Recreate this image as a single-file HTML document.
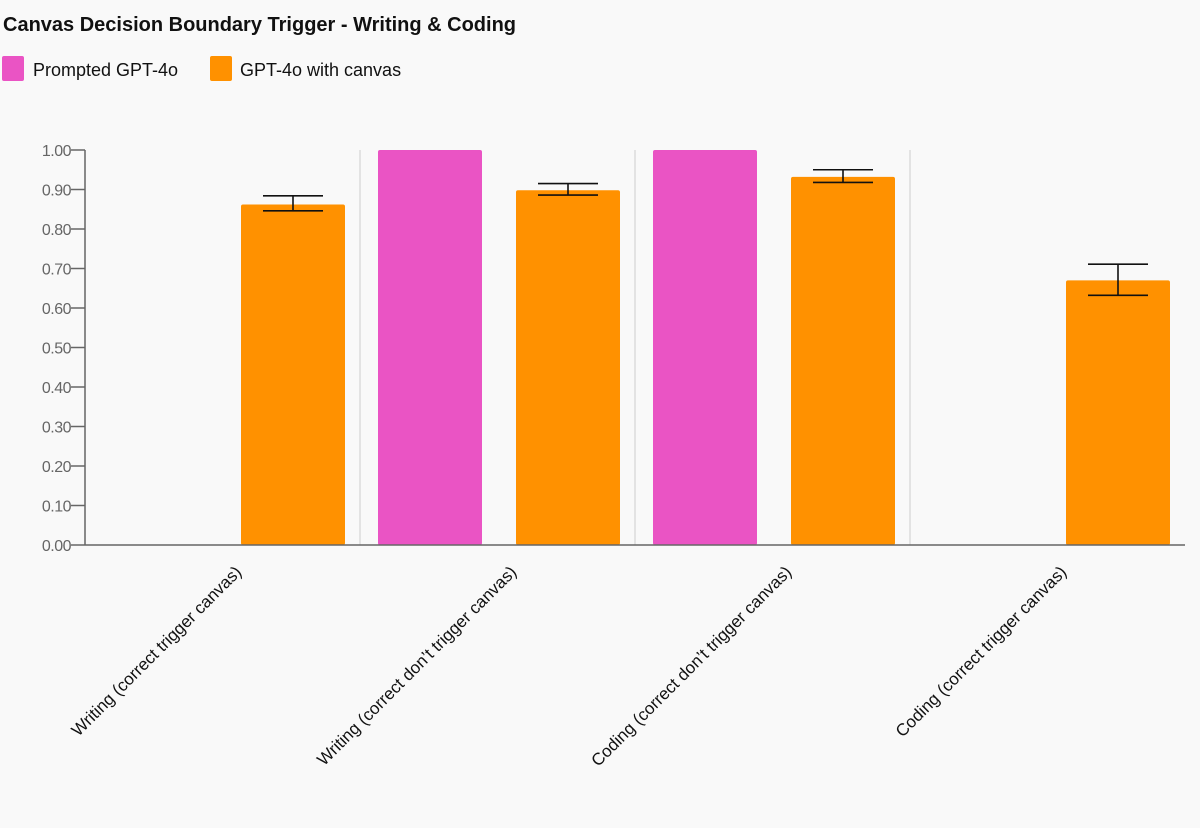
<!DOCTYPE html>
<html><head><meta charset="utf-8"><style>
html,body{margin:0;padding:0;background:#f9f9f9;}
body{width:1200px;height:823px;overflow:hidden;font-family:"Liberation Sans",sans-serif;}
</style></head><body>
<svg width="1200" height="823" xmlns="http://www.w3.org/2000/svg">
<text x="3" y="31" font-size="20" font-weight="bold" fill="#111">Canvas Decision Boundary Trigger - Writing &amp; Coding</text>
<g>
<rect x="2" y="56" width="22" height="25" rx="2" fill="#ea54c4"/>
<text x="33" y="76" font-size="18" fill="#111">Prompted GPT-4o</text>
<rect x="210" y="56" width="22" height="25" rx="2" fill="#ff9100"/>
<text x="240" y="76" font-size="18" fill="#111">GPT-4o with canvas</text>
</g>
<g id="plot"></g>
</svg>
<script>
const categories=["Writing (correct trigger canvas)","Writing (correct don’t trigger canvas)","Coding (correct don’t trigger canvas)","Coding (correct trigger canvas)"];
const promptedValues=[0,1.0,1.0,0];
const canvasValues=[0.862,0.898,0.932,0.670];
const canvasLow=[0.846,0.886,0.918,0.632];
const canvasHigh=[0.884,0.915,0.950,0.711];
const tickValues=[0,0.1,0.2,0.3,0.4,0.5,0.6,0.7,0.8,0.9,1.0];
const tickLabels=["0.00","0.10","0.20","0.30","0.40","0.50","0.60","0.70","0.80","0.90","1.00"];

const NS="http://www.w3.org/2000/svg";
const g=document.getElementById('plot');
const x0=85,x1=1185,y0=545,y1=150;
const cw=(x1-x0)/categories.length;
const y=v=>y0-(y0-y1)*v;
const catX=i=>x0+i*cw;
function mk(tag,attrs){const e=document.createElementNS(NS,tag);for(const k in attrs)e.setAttribute(k,attrs[k]);g.appendChild(e);return e;}
// separators
for(let i=1;i<categories.length;i++){
 const l=mk('line',{x1:catX(i),x2:catX(i),y1:y1,y2:y0,stroke:'#dcdcdc','stroke-width':1.5});
 
 
}
// bars
categories.forEach((c,i)=>{
 const bw=104;
 const px=catX(i)+18, ox=catX(i)+156;
 if(promptedValues[i]>0){
  const r=mk('rect',{x:px,y:y(promptedValues[i]),width:bw,height:y0-y(promptedValues[i]),rx:2,fill:'#ea54c4'});
  
  
 }
 const r2=mk('rect',{x:ox,y:y(canvasValues[i]),width:bw,height:y0-y(canvasValues[i]),rx:2,fill:'#ff9100'});
 
 
 const cx=ox+bw/2;
 const e=mk('path',{d:`M${cx-30},${y(canvasHigh[i])}H${cx+30}M${cx},${y(canvasHigh[i])}V${y(canvasLow[i])}M${cx-30},${y(canvasLow[i])}H${cx+30}`,stroke:'#111','stroke-width':1.6,fill:'none'});
 
 
 const t=mk('text',{x:0,y:0,'font-size':17,fill:'#111','text-anchor':'end',transform:`translate(${catX(i)+cw/2+20},${y0+28}) rotate(-45)`});
 t.textContent=c;
 
 
});
// axes
const ya=mk('line',{x1:x0,x2:x0,y1:y1,y2:y0,stroke:'#666','stroke-width':1.5});


const xa=mk('line',{x1:x0,x2:x1,y1:y0,y2:y0,stroke:'#666','stroke-width':1.5});


tickValues.forEach((v,i)=>{
 const tk=mk('line',{x1:x0-14,x2:x0,y1:y(v),y2:y(v),stroke:'#666','stroke-width':1.5});
 
 
 const t=mk('text',{x:x0-14,y:y(v)+6,'font-size':16,fill:'#666','text-anchor':'end','letter-spacing':'-0.5'});
 t.textContent=tickLabels[i];
 
 
});
</script>
</body></html>
